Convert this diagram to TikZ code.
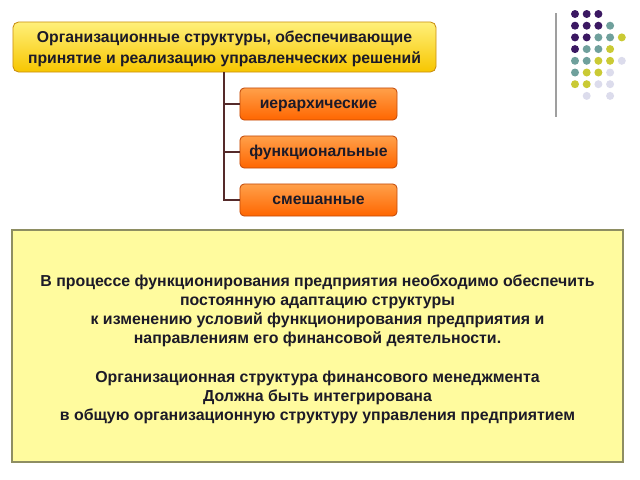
\documentclass[tikz,border=0pt]{standalone}
\usepackage{fontspec}
\setmainfont{Liberation Sans}
\definecolor{inkdark}{HTML}{1C1A28}
\definecolor{goldtop}{HTML}{FFF07A}
\definecolor{goldbot}{HTML}{F7C600}
\definecolor{goldline}{HTML}{C98E12}
\definecolor{orangetop}{HTML}{FFA04A}
\definecolor{orangebot}{HTML}{FF6600}
\definecolor{orangeline}{HTML}{C24A0A}
\definecolor{branchcol}{HTML}{552A2A}
\definecolor{notefill}{HTML}{FFFB9E}
\definecolor{noteline}{HTML}{8E8E62}
\definecolor{dP}{HTML}{3B1862}
\definecolor{dT}{HTML}{6FA09C}
\definecolor{dY}{HTML}{CACA34}
\definecolor{dL}{HTML}{DCDCEC}

\begin{document}
\begin{tikzpicture}[x=0.025cm, y=-0.025cm,
	titlebox/.style={draw=goldline, line width=0.6pt, rounded corners=4pt, top color=goldtop, bottom color=goldbot, text=inkdark, align=center, inner sep=0pt, minimum width=10.575cm, minimum height=1.25cm, font=\bfseries\fontsize{11.2}{15}\selectfont},
	kindbox/.style={draw=orangeline, line width=0.6pt, rounded corners=3pt, top color=orangetop, bottom color=orangebot, text=inkdark, inner sep=0pt, text height=6pt, text depth=0pt, minimum width=3.925cm, minimum height=0.8cm, font=\bfseries\fontsize{11.2}{14}\selectfont},
	notebox/.style={draw=noteline, line width=1pt, fill=notefill, text=inkdark, align=center, inner sep=0pt, minimum width=15.275cm, minimum height=5.8cm, font=\bfseries\fontsize{11.3}{13.6}\selectfont},
	branch/.style={draw=branchcol, line width=1.5pt}]
	\useasboundingbox (0,0) rectangle (640,480);
	% decoration in the corner
	\draw[gray!75, line width=1.2pt] (556,13) -- (556,117);
	\foreach \row [count=\r] in {{dP,dP,dP},{dP,dP,dP,dT},{dP,dP,dT,dT,dY},{dP,dT,dT,dY},{dT,dT,dY,dY,dL},{dT,dY,dY,dL},{dY,dY,dL,dL},{none,dL,none,dL}}
		\foreach \c [count=\k] in \row
			\fill[fill=\c] ({575+11.7*(\k-1)}, {14+11.7*(\r-1)}) circle (4);
	% boxes
	\node[titlebox] (Org) at (224.5, 47) {\rule{0pt}{11pt}Организационные структуры, обеспечивающие\\принятие и реализацию управленческих решений};
	\node[kindbox] (Hier) at (318.5, 104) {иерархические};
	\node[kindbox] (Func) at (318.5, 152) {функциональные};
	\node[kindbox] (Mix) at (318.5, 200) {смешанные};
	\coordinate (trunk) at (224, 0);
	\foreach \n in {Hier, Func, Mix}
		\draw[branch] (Org.south -| trunk) |- (\n.west);
	\node[notebox] (Note) at (317.5, 346) {\rule{0pt}{13pt}В процессе функционирования предприятия необходимо обеспечить\\постоянную адаптацию структуры\\к изменению условий функционирования предприятия и\\направлениям его финансовой деятельности.\\[14pt]Организационная структура финансового менеджмента\\Должна быть интегрирована\\в общую организационную структуру управления предприятием};
\end{tikzpicture}
\end{document}
